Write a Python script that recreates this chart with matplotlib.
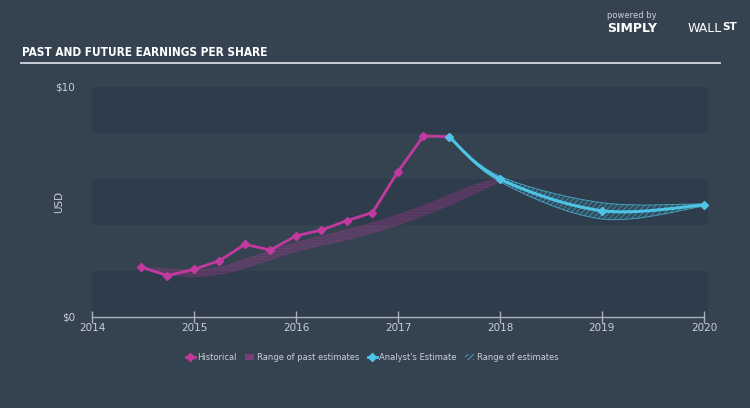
import numpy as np
import matplotlib
matplotlib.use("Agg")
import matplotlib.pyplot as plt
from matplotlib.path import Path
from matplotlib.patches import PathPatch
from matplotlib.lines import Line2D
from matplotlib.patches import Patch

# ---------------- data ----------------
hist_x = [2014.48, 2014.74, 2015.0, 2015.25, 2015.5, 2015.75, 2016.0, 2016.25,
          2016.5, 2016.75, 2017.0, 2017.25, 2017.5]
hist_y = [2.17, 1.80, 2.07, 2.45, 3.16, 2.91, 3.53, 3.78, 4.19, 4.54, 6.32, 7.87, 7.84]

past_x = [2014.48, 2014.75, 2015.0, 2015.25, 2015.5, 2015.75, 2016.0, 2016.25,
          2016.5, 2016.75, 2017.0, 2017.25, 2017.5, 2017.75, 2018.0]
past_lo = [2.17, 1.85, 1.75, 1.85, 2.12, 2.48, 2.84, 3.10, 3.36, 3.65, 4.00, 4.40, 4.85, 5.35, 5.88]
past_hi = [2.17, 2.10, 2.05, 2.18, 2.52, 2.90, 3.25, 3.52, 3.80, 4.10, 4.45, 4.85, 5.30, 5.75, 6.05]

est_x = [2017.5, 2018.0, 2019.0, 2020.0]
est_y = [7.84, 6.00, 4.62, 4.87]
est_lo = [7.84, 5.88, 4.26, 4.82]
est_hi = [7.84, 6.12, 4.97, 4.92]

x_ticks = [2014, 2015, 2016, 2017, 2018, 2019, 2020]
y_ticks = [0, 10]
y_labels = ["$0", "$10"]

PINK = "#c23a9f"
CYAN = "#4fc3e6"
BG = "#354351"
BAND = "#2f3c4b"
TXT = "#c9cfd6"


def smooth_path(xs, ys):
    pts = np.column_stack([xs, ys]).astype(float)
    n = len(pts)
    verts = [pts[0]]
    codes = [Path.MOVETO]
    for i in range(n - 1):
        p0 = pts[i - 1] if i > 0 else pts[i]
        p1 = pts[i]
        p2 = pts[i + 1]
        p3 = pts[i + 2] if i + 2 < n else pts[i + 1]
        c1 = p1 + (p2 - p0) / 6.0
        c2 = p2 - (p3 - p1) / 6.0
        verts += [c1, c2, p2]
        codes += [Path.CURVE4] * 3
    return verts, codes


def band_path(xs, lo, hi):
    v1, c1 = smooth_path(xs, hi)
    v2, c2 = smooth_path(xs[::-1], lo[::-1])
    c2 = [Path.LINETO] + c2[1:]
    verts = v1 + v2 + [v1[0]]
    codes = c1 + c2 + [Path.CLOSEPOLY]
    return Path(verts, codes)


matplotlib.rcParams["hatch.linewidth"] = 0.5

fig = plt.figure(figsize=(7.5, 4.08), dpi=100, facecolor=BG)
ax = fig.add_axes([92 / 750, 1 - 317 / 408, (708 - 92) / 750, (317 - 87) / 408])
ax.set_facecolor(BG)
ax.set_xlim(2014, 2020.04)
ax.set_ylim(0, 10)

for lo_, hi_ in [(0, 2), (4, 6), (8, 10)]:
    ax.axhspan(lo_, hi_, color=BAND, lw=0, zorder=0)

# past estimates band
pp = PathPatch(band_path(past_x, past_lo, past_hi), facecolor=PINK, alpha=0.22,
               edgecolor=PINK, lw=0.5, hatch="------", zorder=2)
ax.add_patch(pp)

# future estimates band
ax.add_patch(PathPatch(band_path(est_x, est_lo, est_hi), facecolor=CYAN, alpha=0.12,
                       edgecolor="none", zorder=2))
fp = PathPatch(band_path(est_x, est_lo, est_hi), facecolor="none", alpha=0.7,
               edgecolor=CYAN, lw=0.7, hatch="//////", zorder=2)
ax.add_patch(fp)

# historical line
ax.plot(hist_x, hist_y, color=PINK, lw=2.0, marker="D", ms=4.5, zorder=4,
        solid_joinstyle="round")

# analyst estimate smooth line
v, c = smooth_path(est_x, est_y)
ax.add_patch(PathPatch(Path(v, c), facecolor="none", edgecolor=CYAN, lw=2.2, zorder=5))
ax.plot(est_x, est_y, ls="none", marker="D", ms=4.5, color=CYAN, zorder=6)

for s in ["top", "right", "left"]:
    ax.spines[s].set_visible(False)
ax.spines["bottom"].set_color("#aab3bd")
ax.spines["bottom"].set_linewidth(1.0)
ax.spines["bottom"].set_bounds(2014, 2020)

ax.set_xticks(x_ticks)
ax.set_xticklabels([str(t) for t in x_ticks])
ax.tick_params(axis="x", colors="#aab3bd", length=9, width=1, direction="inout",
               labelsize=7.5, labelcolor=TXT, pad=0)
ax.set_yticks(y_ticks)
ax.set_yticklabels(y_labels)
ax.tick_params(axis="y", length=0, labelsize=7.5, labelcolor=TXT, pad=12)
for lab in ax.get_yticklabels():
    lab.set_verticalalignment("center")
ax.set_ylabel("USD", color=TXT, fontsize=7.5)
ax.yaxis.set_label_coords(-0.045, 0.5)

# title and rule
fig.text(22 / 750, 1 - 52 / 408, "PAST AND FUTURE EARNINGS PER SHARE",
         family="DejaVu Sans", stretch="condensed", weight="bold", fontsize=8.5,
         color="white", va="center", ha="left")
fig.add_artist(Line2D([21 / 750, 720 / 750], [1 - 63 / 408, 1 - 63 / 408],
                      color="#d5dbe2", lw=1.3))

# logo texts
fig.text(607 / 750, 1 - 15 / 408, "powered by", fontsize=6, color="#c9cfd6",
         ha="left", va="center")
fig.text(607 / 750, 1 - 28 / 408, "SIMPLY", fontsize=9, weight="bold",
         color="white", ha="left", va="center")
fig.text(688 / 750, 1 - 28 / 408, "WALL", fontsize=9, color="white",
         ha="left", va="center")
fig.text(722 / 750, 1 - 27 / 408, "ST", fontsize=7.5, weight="bold",
         color="white", ha="left", va="center")

# legend
handles = [
    Line2D([], [], color=PINK, lw=2.0, marker="D", ms=4.5),
    Patch(facecolor=PINK, alpha=0.5, edgecolor="none"),
    Line2D([], [], color=CYAN, lw=2.0, marker="D", ms=4.5),
    Patch(facecolor="none", edgecolor=CYAN, hatch="//////", lw=0),
]
labels = ["Historical", "Range of past estimates", "Analyst's Estimate",
          "Range of estimates"]
leg = fig.legend(handles, labels, loc="center", bbox_to_anchor=(372 / 750, 1 - 357 / 408),
                 ncol=4, frameon=False, fontsize=6, labelcolor=TXT,
                 handlelength=1.1, handletextpad=0.3, columnspacing=1.0,
                 handleheight=0.7)

fig.savefig("out.png", dpi=100, facecolor=BG)
